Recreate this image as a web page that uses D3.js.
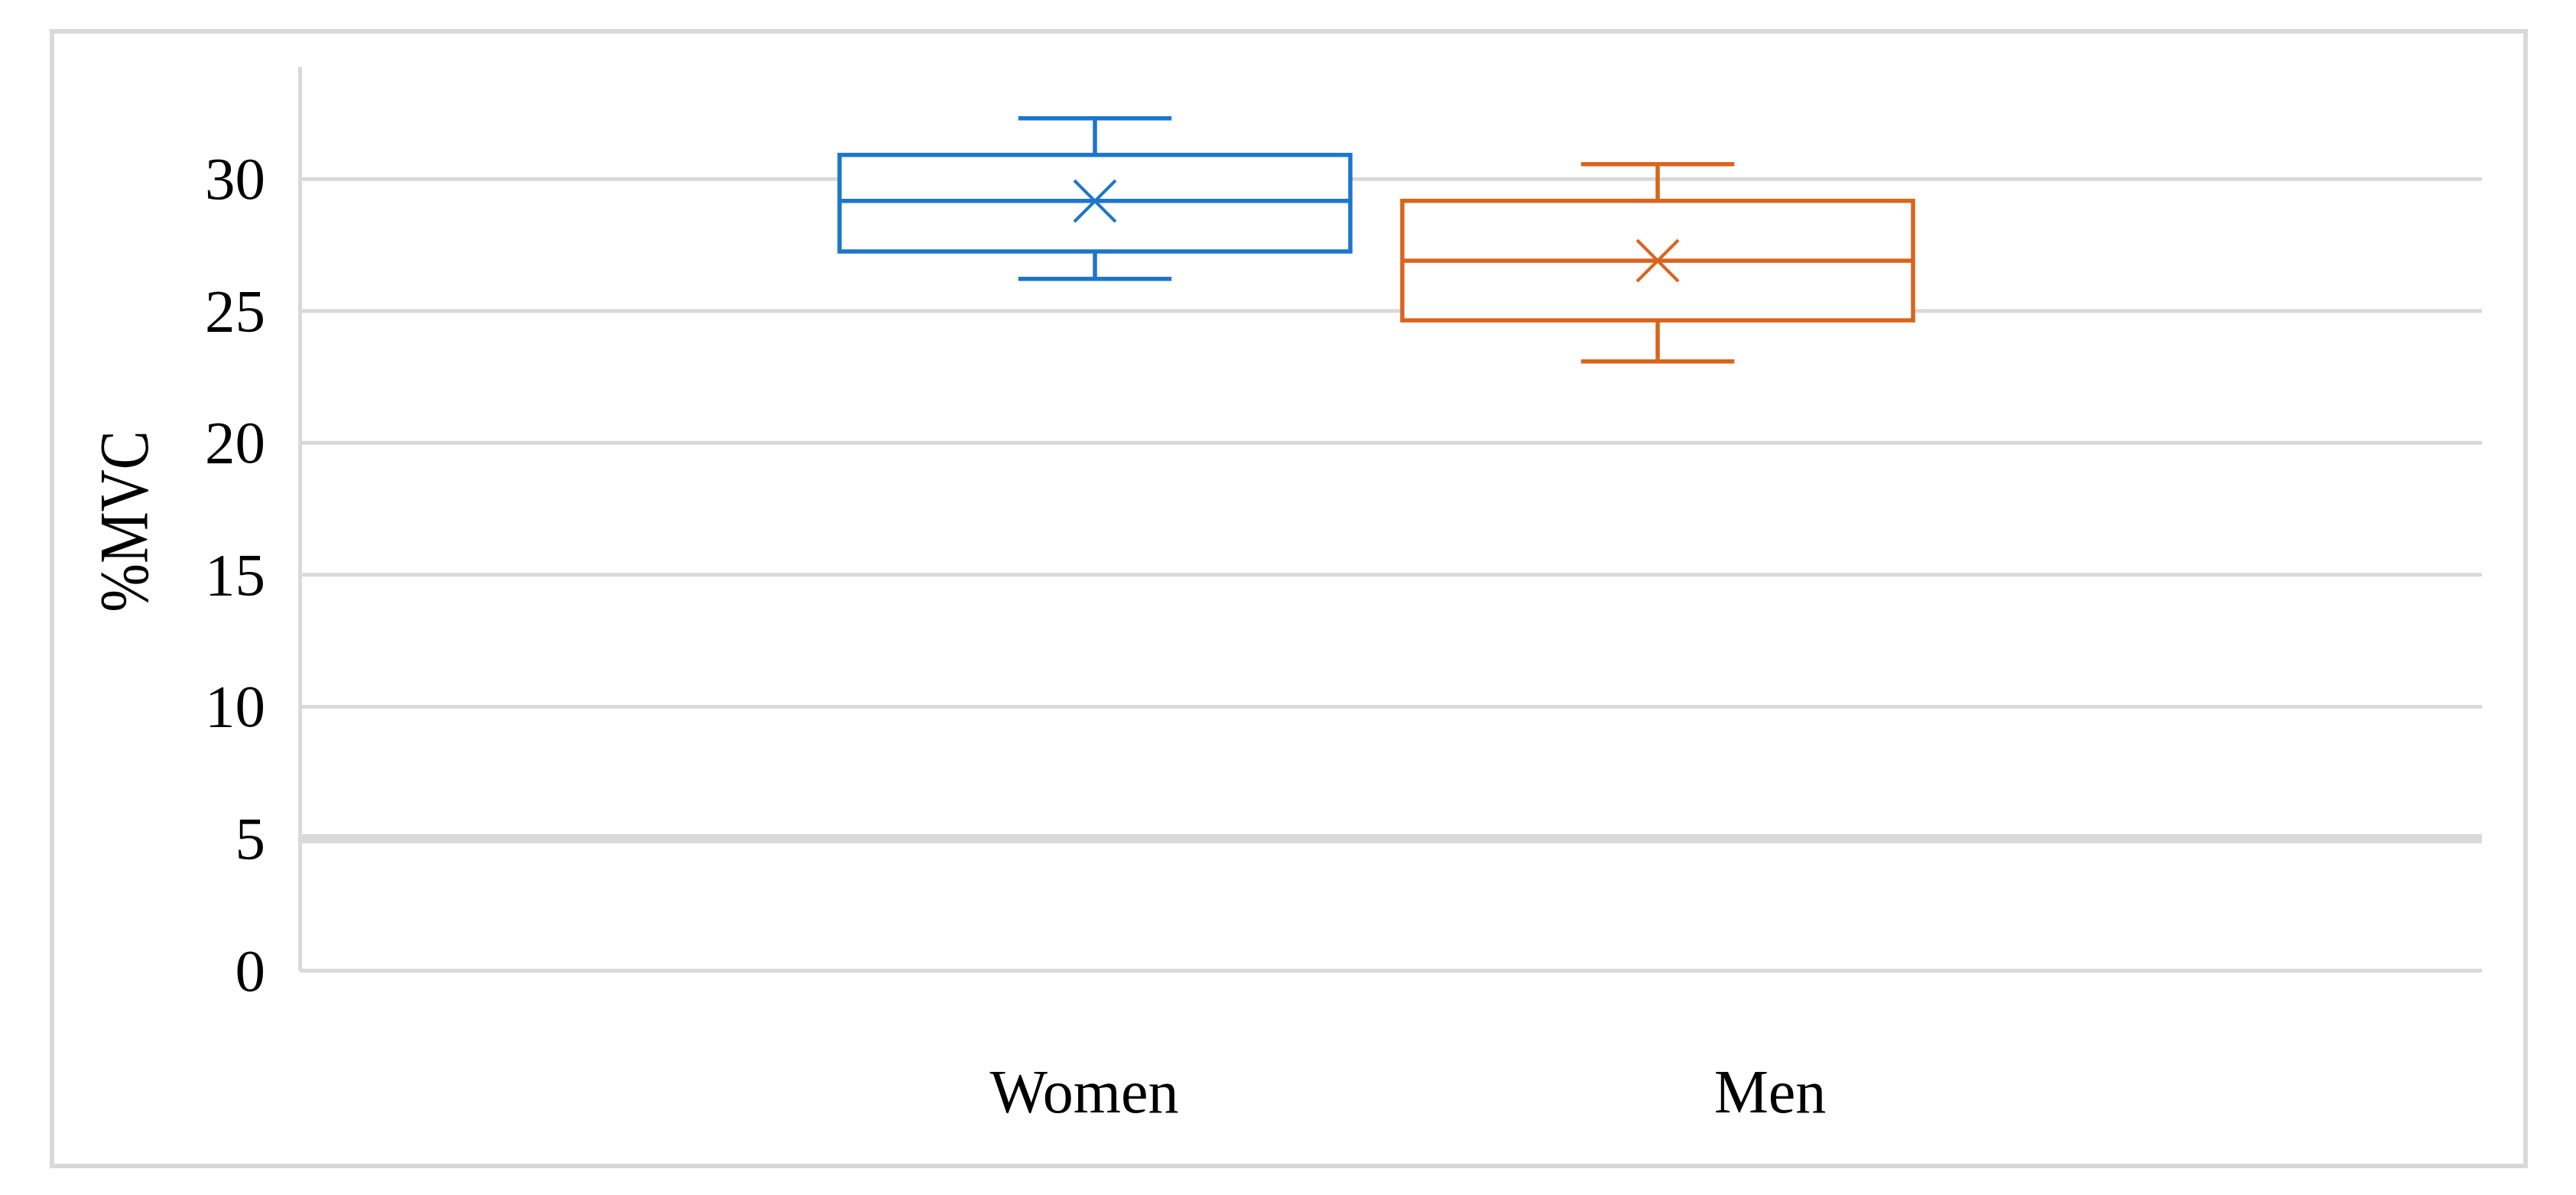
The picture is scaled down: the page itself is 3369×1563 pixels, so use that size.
<!DOCTYPE html>
<html>
<head>
<meta charset="utf-8">
<script src="https://cdn.jsdelivr.net/npm/d3@7"></script>
<style>
  html, body { margin: 0; padding: 0; background: #ffffff; }
  svg { display: block; }
</style>
</head>
<body>
<svg id="chart" width="3369" height="1563"></svg>
<script>
// ---- data ----
const categories = ["Women", "Men"];
const whiskerMin = [26.20, 23.07];
const q1 = [27.24, 24.63];
const median = [29.16, 26.89];
const q3 = [30.90, 29.16];
const whiskerMax = [32.29, 30.55];
const means = [29.15, 26.89];
const yTicks = [0, 5, 10, 15, 20, 25, 30];
const yTitle = "%MVC";
const colors = ["#1C76CA", "#D8651D"];

// ---- layout ----
const W = 3369, H = 1563;
const plot = { left: 392, right: 3246, top: 87, bottom: 1269 };
const gridColor = "#d9d9d9";
const fontFamily = "'Liberation Serif', 'Times New Roman', serif";

const svg = d3.select("#chart");
svg.append("rect").attr("width", W).attr("height", H).attr("fill", "#ffffff");

// outer frame
svg.append("rect")
  .attr("x", 68).attr("y", 41)
  .attr("width", 3303 - 68).attr("height", 1525 - 41)
  .attr("fill", "none").attr("stroke", gridColor).attr("stroke-width", 6);

const y = d3.scaleLinear().domain([0, 34.25]).range([plot.bottom, plot.top]);
const xBox = d3.scaleBand().domain(categories).range([1098, 2502])
  .paddingInner(0.0924).paddingOuter(0);
const xLabel = d3.scalePoint().domain(categories).range([1418, 2315]);

// gridlines
const grid = svg.append("g").attr("transform", `translate(${plot.left},0)`)
  .call(d3.axisLeft(y).tickValues(yTicks).tickSize(-(plot.right - plot.left)).tickFormat(""));
grid.select(".domain").remove();
grid.selectAll(".tick line")
  .attr("stroke", gridColor)
  .attr("stroke-width", d => d === 5 ? 12 : 5);

// y axis with labels
const yAxis = svg.append("g").attr("transform", `translate(${plot.left},0)`)
  .call(d3.axisLeft(y).tickValues(yTicks).tickSize(0).tickSizeOuter(0).tickPadding(45));
yAxis.select(".domain").attr("stroke", gridColor).attr("stroke-width", 5);
yAxis.selectAll(".tick text")
  .attr("font-family", fontFamily)
  .attr("font-size", 79)
  .attr("fill", "#000")
  .attr("dy", "0.33em");

// y title
svg.append("text")
  .attr("transform", `translate(193,682) rotate(-90)`)
  .attr("text-anchor", "middle")
  .attr("font-family", fontFamily)
  .attr("font-size", 90)
  .attr("textLength", 237)
  .attr("lengthAdjust", "spacingAndGlyphs")
  .attr("fill", "#000")
  .text(yTitle);

// x labels
svg.append("g").selectAll("text").data(categories).join("text")
  .attr("x", d => xLabel(d))
  .attr("y", 1455)
  .attr("text-anchor", "middle")
  .attr("font-family", fontFamily)
  .attr("font-size", 80)
  .attr("fill", "#000")
  .text(d => d);

// boxes
const sw = 5.5;
const capFrac = 0.30;
const boxes = svg.append("g").selectAll("g").data(categories).join("g")
  .attr("stroke", (d, i) => colors[i])
  .attr("fill", "none");

boxes.each(function(d, i) {
  const g = d3.select(this);
  const x0 = xBox(d), bw = xBox.bandwidth(), cx = x0 + bw / 2;
  const capHalf = bw * capFrac / 2;
  // whiskers
  g.append("line").attr("x1", cx).attr("x2", cx)
    .attr("y1", y(whiskerMax[i])).attr("y2", y(q3[i])).attr("stroke-width", sw);
  g.append("line").attr("x1", cx).attr("x2", cx)
    .attr("y1", y(q1[i])).attr("y2", y(whiskerMin[i])).attr("stroke-width", sw);
  g.append("line").attr("x1", cx - capHalf).attr("x2", cx + capHalf)
    .attr("y1", y(whiskerMax[i])).attr("y2", y(whiskerMax[i])).attr("stroke-width", sw);
  g.append("line").attr("x1", cx - capHalf).attr("x2", cx + capHalf)
    .attr("y1", y(whiskerMin[i])).attr("y2", y(whiskerMin[i])).attr("stroke-width", sw);
  // box
  g.append("rect").attr("x", x0).attr("y", y(q3[i]))
    .attr("width", bw).attr("height", y(q1[i]) - y(q3[i]))
    .attr("fill", "#ffffff").attr("stroke-width", sw);
  // median
  g.append("line").attr("x1", x0).attr("x2", x0 + bw)
    .attr("y1", y(median[i])).attr("y2", y(median[i])).attr("stroke-width", sw);
  // mean marker (x)
  const m = 27, my = y(means[i]);
  g.append("line").attr("x1", cx - m).attr("x2", cx + m)
    .attr("y1", my - m).attr("y2", my + m).attr("stroke-width", 4);
  g.append("line").attr("x1", cx - m).attr("x2", cx + m)
    .attr("y1", my + m).attr("y2", my - m).attr("stroke-width", 4);
});
</script>
</body>
</html>
